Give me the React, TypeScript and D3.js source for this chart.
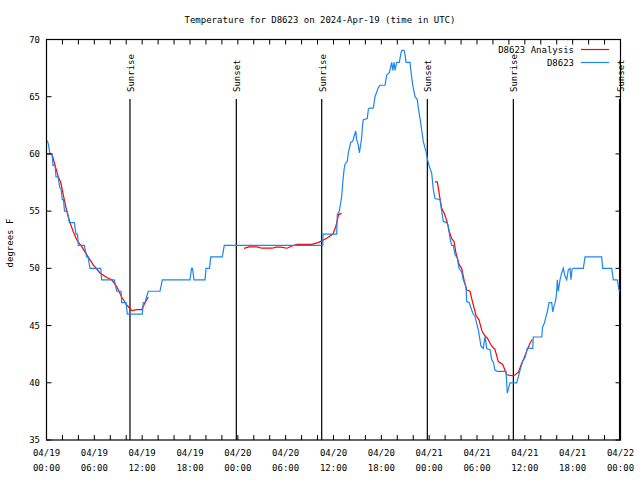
import React from "react";
import * as d3 from "d3";

// hours since 2024-04-19 00:00 UTC, temperature (F)
const obsHours = [0,0.19,0.44,0.69,0.82,1.07,1.19,1.44,1.69,1.82,1.98,2.13,2.26,2.61,2.86,3.49,3.70,3.89,3.99,4.74,5.04,5.21,5.46,6.80,6.92,8.50,8.81,9.35,9.43,9.97,10.14,12.02,12.14,12.36,12.54,12.77,14.24,14.53,18.00,18.19,18.31,18.50,19.88,20.01,20.45,20.60,22.05,22.30,34.65,34.68,36.40,36.48,36.73,37.03,37.16,37.32,37.45,37.73,37.86,38.16,38.41,38.57,38.79,38.91,39.11,39.24,39.41,39.54,39.66,39.74,40.24,40.37,40.49,40.99,41.21,41.62,41.84,42.46,42.68,43.00,43.30,43.43,43.59,43.72,43.93,44.26,44.43,44.56,44.85,44.97,45.10,45.60,45.73,45.94,46.23,46.51,46.64,46.85,47.06,47.26,47.60,47.76,48.02,48.32,48.52,48.73,49.36,49.57,49.78,50.20,50.40,50.62,50.83,51.03,51.24,51.53,51.74,52.08,52.28,52.62,52.71,53.03,53.46,53.75,54.17,54.50,54.79,55.01,55.22,55.63,55.85,56.05,56.26,56.55,57.64,57.80,57.92,58.14,58.98,59.18,59.40,59.73,60.02,60.31,60.99,61.06,62.12,62.24,62.44,62.66,62.82,63.04,63.37,63.50,63.66,63.79,63.91,64.00,64.07,64.20,64.41,64.63,64.83,65.04,65.25,65.46,65.67,65.79,65.92,66.08,67.34,67.55,69.64,69.77,70.90,71.10,71.60,71.81,71.95];
const obsTemps = [61.2,61,60,60,59,59,58,58,57,57,56,56,55,55,54,54,53,53,52,52,51,51,50,50,49,49,48,48,47,47,46,46,47,47,47.5,48,48,49,49,50,50,49,49,50,50,51,51,52,52,53,53,54.7,55,56.3,57.5,58.6,59.1,59.35,60.1,61,61.1,61.5,62,61.25,60.8,60.1,60.8,61.5,62.6,63,63.1,63.9,64,64,65,65.8,66,66,66.9,67.1,68,67.3,68,67.3,68,68,68.7,69.05,69.05,68.7,68,68,67.1,66,65,64.75,64,63.1,62.1,61.1,60.2,59.6,58.9,58.3,56.9,56.1,56,55,54.1,54,53.7,52.6,52,52,51.2,50.9,50,49.7,49,48.4,47.1,47,46.1,45.8,44.6,43.2,43,44.05,43,42.9,42,41.8,41.1,41,41,39.1,39.4,40,40,40.5,41.1,41.9,42.2,43,43,44,44,44.9,45.2,45.8,46.2,47,47,46.2,46.7,47,47.4,48,49,48,49,49.6,50,49.3,49,49.9,50,49,49.9,50,50,51,51,50,50,49,49,48.1,48];

const anaHours1 = [0,0.69,1.07,1.48,1.79,2.11,2.54,2.95,3.36,3.79,4.42,5.04,5.87,6.71,7.55,8.18,8.81,9.43,10.06,10.69,11.32,11.95,12.36,12.77];
const anaTemps1 = [60,60,59,58,57.5,56.4,55,54,53.2,52.5,51.9,51.2,50.3,49.6,49.2,49,48.4,47.5,46.8,46.3,46.4,46.4,47,47.5];
const anaHours2 = [24.78,25.40,26.41,27.03,28.29,28.79,29.42,30.17,30.79,31.42,33.30,34.05,34.55,35.18,35.94,36.31,36.63,37.03];
const anaTemps2 = [51.75,51.88,51.88,51.76,51.76,51.85,51.85,51.76,51.95,52.1,52.1,52.25,52.4,52.65,53.0,53.7,54.7,54.8];
const anaHours3 = [48.73,49.02,49.36,49.57,49.90,50.20,50.53,50.83,51.12,51.37,51.78,52.08,52.37,52.71,53.12,53.46,53.87,54.25,54.59,54.88,55.30,55.85,56.26,56.67,57.23,57.73,58.56,59.18,59.61,59.90,60.31,60.65,60.94];
const anaTemps3 = [57.55,57.55,56.1,55.25,54.8,54.2,53.2,52.6,52.35,51.3,50.3,50.0,49,48.1,48.0,47,45.9,45.5,44.6,44.2,43.9,43.2,42.9,41.85,41.6,40.7,40.6,40.9,41.7,42.15,42.9,43.45,43.8];

const sunHours = [10.47, 23.81, 34.52, 47.77, 58.56, 71.88];
const sunLabels = ["Sunrise", "Sunset", "Sunrise", "Sunset", "Sunrise", "Sunset"];

const xTickHours = [0, 6, 12, 18, 24, 30, 36, 42, 48, 54, 60, 66, 72];
const xTickDates = ["04/19", "04/19", "04/19", "04/19", "04/20", "04/20", "04/20", "04/20", "04/21", "04/21", "04/21", "04/21", "04/22"];
const xTickTimes = ["00:00", "06:00", "12:00", "18:00", "00:00", "06:00", "12:00", "18:00", "00:00", "06:00", "12:00", "18:00", "00:00"];
const yTicks = [35, 40, 45, 50, 55, 60, 65, 70];

const title = "Temperature for D8623 on 2024-Apr-19 (time in UTC)";
const seriesNames = ["D8623 Analysis", "D8623"];
const RED = "#ff0000";
const BLUE = "#1c86ee";
const FONT = "'DejaVu Sans Mono', monospace";

export default function App() {
  const L = 46.5, R = 620.5, T = 39.5, B = 440;
  const x = d3.scaleLinear().domain([0, 72]).range([L, R]);
  const y = d3.scaleLinear().domain([35, 70]).range([B, T]);
  const line = d3.line<[number, number]>().x(d => x(d[0])).y(d => y(d[1]));
  const zip = (h: number[], v: number[]) => h.map((t, i) => [t, v[i]] as [number, number]);
  const minor = d3.range(0, 73, 2);
  return (
    <svg width={640} height={480} style={{ position: "absolute", left: 0, top: 0, background: "#fff" }} fontFamily={FONT}>
      <rect x={0} y={0} width={640} height={480} fill="#fff" />
      <text x={320} y={23} fontSize={9} textAnchor="middle">{title}</text>
      <text transform={`translate(13,243) rotate(-90)`} fontSize={9} textAnchor="middle">degrees F</text>
      {sunHours.map((h, i) => (
        <g key={i}>
          <line x1={x(h)} x2={x(h)} y1={99} y2={B} stroke="#000" strokeWidth={1.2} />
          <text transform={`translate(${x(h) + 4},92) rotate(-90)`} fontSize={9} textAnchor="start">{sunLabels[i]}</text>
        </g>
      ))}
      {[zip(anaHours1, anaTemps1), zip(anaHours2, anaTemps2), zip(anaHours3, anaTemps3)].map((d, i) => (
        <path key={i} d={line(d) || ""} fill="none" stroke={RED} strokeWidth={1.2} />
      ))}
      <path d={line(zip(obsHours, obsTemps)) || ""} fill="none" stroke={BLUE} strokeWidth={1.2} />
      <rect x={L} y={T} width={R - L} height={B - T} fill="none" stroke="#000" strokeWidth={1.2} />
      {minor.map(h => (
        <g key={h}>
          <line x1={x(h)} x2={x(h)} y1={B} y2={B - 5} stroke="#000" />
          <line x1={x(h)} x2={x(h)} y1={T} y2={T + 5} stroke="#000" />
        </g>
      ))}
      {yTicks.map(v => (
        <g key={v}>
          <line x1={L} x2={L + 5} y1={y(v)} y2={y(v)} stroke="#000" />
          <line x1={R} x2={R - 5} y1={y(v)} y2={y(v)} stroke="#000" />
          <text x={40} y={y(v) + 3} fontSize={9} textAnchor="end">{v}</text>
        </g>
      ))}
      {xTickHours.map((h, i) => (
        <g key={h}>
          <text x={x(h)} y={456} fontSize={9} textAnchor="middle">{xTickDates[i]}</text>
          <text x={x(h)} y={471} fontSize={9} textAnchor="middle">{xTickTimes[i]}</text>
        </g>
      ))}
      <text x={574} y={53} fontSize={9} textAnchor="end">{seriesNames[0]}</text>
      <line x1={581} x2={609} y1={49.5} y2={49.5} stroke={RED} strokeWidth={1.2} />
      <text x={574} y={66} fontSize={9} textAnchor="end">{seriesNames[1]}</text>
      <line x1={581} x2={609} y1={62.5} y2={62.5} stroke={BLUE} strokeWidth={1.2} />
    </svg>
  );
}
